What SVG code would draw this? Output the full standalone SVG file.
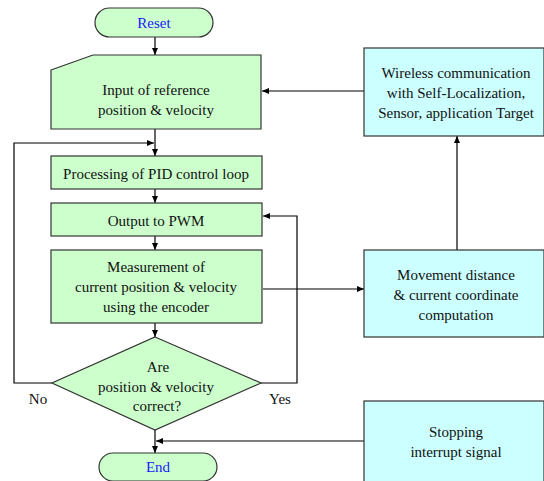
<svg xmlns="http://www.w3.org/2000/svg" width="544" height="481" viewBox="0 0 544 481">
<defs>
<marker id="ah" markerWidth="8" markerHeight="8" refX="7" refY="4" orient="auto" markerUnits="userSpaceOnUse">
<path d="M0,1 L7,4 L0,7 Z" fill="#000"/>
</marker>
<style>
.g{fill:#ccffcc;stroke:#333;stroke-width:1.2}
.c{fill:#ccffff;stroke:#333;stroke-width:1.2}
text{font-family:"Liberation Serif","Times New Roman",serif;font-size:15px;fill:#111;text-anchor:middle}
.b{fill:#1a1aff}
.l{fill:none;stroke:#000;stroke-width:1.2}
</style>
</defs>
<rect width="544" height="481" fill="#fff"/>
<g id="connectors">
<line class="l" x1="155" y1="37" x2="155" y2="55" marker-end="url(#ah)"/>
<line class="l" x1="155" y1="129" x2="155" y2="156" marker-end="url(#ah)"/>
<line class="l" x1="155" y1="189" x2="155" y2="203" marker-end="url(#ah)"/>
<line class="l" x1="155" y1="236" x2="155" y2="250" marker-end="url(#ah)"/>
<line class="l" x1="155" y1="323" x2="155" y2="337" marker-end="url(#ah)"/>
<line class="l" x1="155" y1="430" x2="155" y2="453" marker-end="url(#ah)"/>
<polyline class="l" points="52,383 14,383 14,143 154,143" marker-end="url(#ah)"/>
<polyline class="l" points="261,383 297,383 297,216 263,216" marker-end="url(#ah)"/>
<line class="l" x1="263" y1="289" x2="364" y2="289" marker-end="url(#ah)"/>
<line class="l" x1="457" y1="250" x2="457" y2="136" marker-end="url(#ah)"/>
<line class="l" x1="364" y1="91" x2="262" y2="91" marker-end="url(#ah)"/>
<line class="l" x1="364" y1="441" x2="156" y2="441" marker-end="url(#ah)"/>
</g>
<g id="reset">
<rect class="g" x="95" y="8" width="118" height="29" rx="14.5"/>
<text class="b" x="154" y="28">Reset</text>
</g>
<g id="input">
<polygon class="g" points="51,70 93,55 261,55 261,129 51,129"/>
<text x="156" y="95">Input of reference</text>
<text x="156" y="115">position &amp; velocity</text>
</g>
<g id="pid">
<rect class="g" x="51" y="156" width="211" height="33"/>
<text x="156" y="179">Processing of PID control loop</text>
</g>
<g id="pwm">
<rect class="g" x="51" y="203" width="211" height="33"/>
<text x="156" y="226">Output to PWM</text>
</g>
<g id="measure">
<rect class="g" x="51" y="250" width="211" height="73"/>
<text x="156" y="272">Measurement of</text>
<text x="156" y="292">current position &amp; velocity</text>
<text x="156" y="312">using the encoder</text>
</g>
<g id="decision">
<polygon class="g" points="155,337 261,383 155,430 52,383"/>
<text x="158" y="372">Are</text>
<text x="156" y="392">position &amp; velocity</text>
<text x="157" y="411">correct?</text>
</g>
<text x="38" y="404">No</text>
<text x="280" y="404">Yes</text>
<g id="end">
<rect class="g" x="99" y="453" width="118" height="28" rx="14"/>
<text class="b" x="158" y="472">End</text>
</g>
<g id="wireless">
<rect class="c" x="364" y="48" width="180" height="88"/>
<text x="456" y="78">Wireless communication</text>
<text x="456" y="98">with Self-Localization,</text>
<text x="456" y="118">Sensor, application Target</text>
</g>
<g id="movement">
<rect class="c" x="364" y="250" width="180" height="87"/>
<text x="456" y="280">Movement distance</text>
<text x="456" y="300">&amp; current coordinate</text>
<text x="456" y="320">computation</text>
</g>
<g id="stopping">
<rect class="c" x="364" y="401" width="180" height="82"/>
<text x="456" y="437">Stopping</text>
<text x="456" y="457">interrupt signal</text>
</g>
</svg>
